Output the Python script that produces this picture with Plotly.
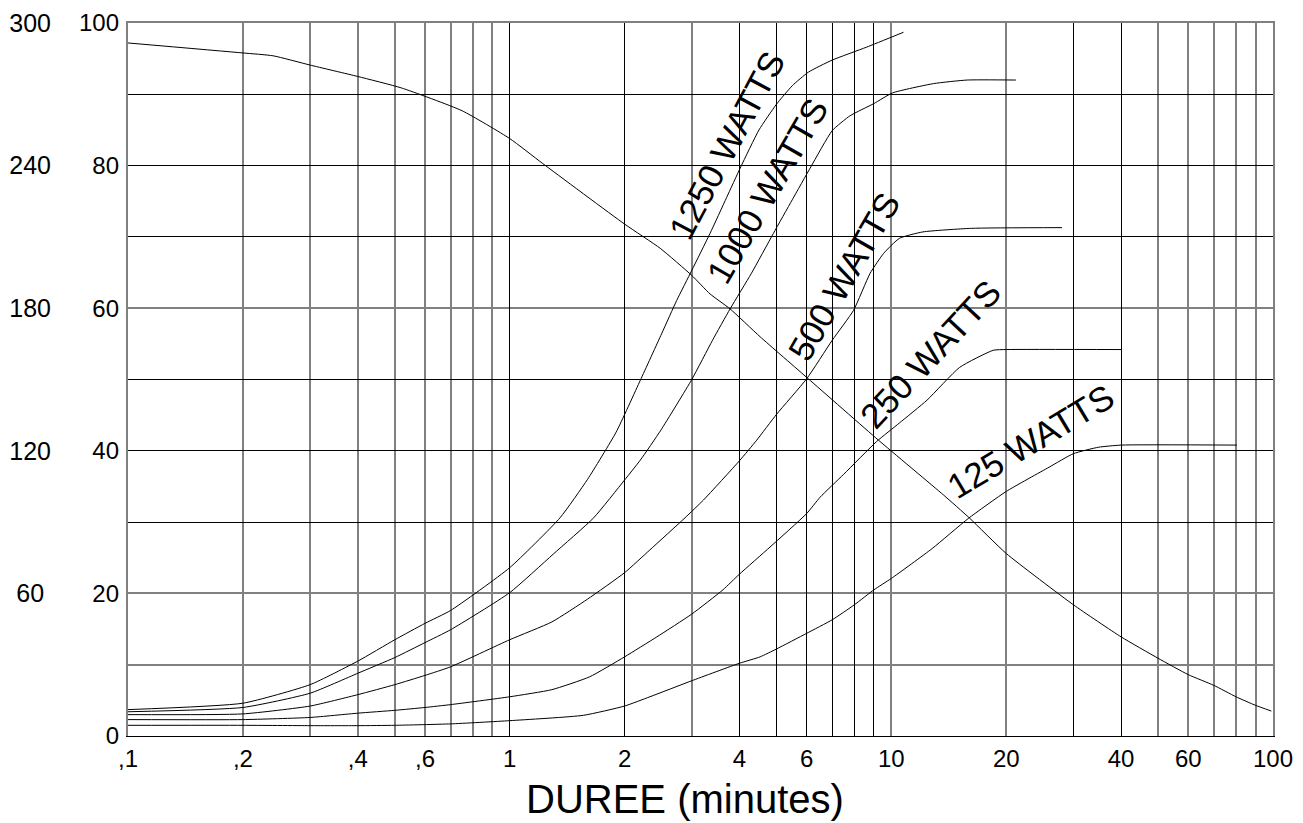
import math
import plotly.graph_objects as go

# ---------------- data ----------------
X_TICK_VALS = [0.1, 0.2, 0.4, 0.6, 1, 2, 4, 6, 10, 20, 40, 60, 100]
X_TICK_TEXT = [",1", ",2", ",4", ",6", "1", "2", "4", "6", "10", "20", "40", "60", "100"]
Y_TICK_VALS = [0, 20, 40, 60, 80, 100]
Y300_TICK_VALS = [60, 120, 180, 240, 300]
Y300_TICK_TEXT = ["60\u00a0", "120", "180", "240", "300"]

X_GRID_BLACK = [1, 2, 4, 5, 6, 7, 8, 9, 30, 40]
X_GRID_GRAY = [0.2, 0.3, 0.4, 0.5, 0.6, 0.7, 0.8, 0.9, 3, 10, 20, 50, 60, 70, 80, 90]
Y_GRID_BLACK = [30, 40, 50, 70, 80, 90]
Y_GRID_GRAY = [10, 20, 60]

w1250_x = [0.1, 0.2, 0.3, 0.4, 0.5, 0.6, 0.7, 1.0, 1.355, 1.6, 1.9, 2.2, 2.5, 2.74, 3.0, 3.35, 3.7, 4.03, 4.5, 5.0, 5.5, 6.06, 7.0, 8.6, 10.76]
w1250_y = [3.7, 4.6, 7.2, 10.5, 13.5, 15.8, 17.6, 23.6, 30.6, 36.0, 42.6, 49.9, 56.4, 61.1, 65.3, 70.5, 75.5, 79.8, 85.0, 88.6, 91.2, 93.1, 94.8, 96.6, 98.7]

w1000_x = [0.1, 0.2, 0.3, 0.4, 0.5, 0.6, 0.7, 1.0, 1.3, 1.66, 2.0, 2.2, 2.49, 3.0, 3.4, 3.78, 4.3, 4.91, 5.5, 6.15, 7.0, 7.8, 9.0, 10.08, 12.9, 15.8, 21.2]
w1000_y = [3.4, 4.0, 6.0, 8.8, 11.0, 13.1, 14.9, 20.1, 25.5, 30.6, 35.9, 38.7, 42.9, 50.0, 55.5, 59.9, 64.9, 70.5, 75.2, 79.8, 84.9, 87.0, 88.7, 90.2, 91.5, 92.0, 92.0]

w500_x = [0.1, 0.2, 0.3, 0.4, 0.5, 0.6, 0.7, 1.0, 1.29, 1.6, 2.0, 2.33, 2.88, 3.22, 4.0, 4.44, 5.0, 6.0, 7.0, 7.96, 8.8, 9.55, 10.5, 12.1, 16.2, 28.0]
w500_y = [3.0, 3.1, 4.2, 5.8, 7.2, 8.5, 9.7, 13.5, 16.0, 19.2, 22.9, 26.1, 30.6, 33.1, 38.6, 41.5, 45.1, 50.1, 55.5, 59.7, 64.9, 67.7, 69.8, 70.7, 71.2, 71.3]

w250_x = [0.1, 0.2, 0.3, 0.4, 0.5, 0.6, 0.7, 1.0, 1.29, 1.62, 2.0, 2.43, 3.0, 3.62, 4.0, 4.81, 6.0, 6.51, 7.5, 9.15, 10.5, 12.4, 15.1, 18.5, 20, 40]
w250_y = [2.3, 2.3, 2.6, 3.2, 3.6, 4.0, 4.4, 5.5, 6.5, 8.3, 11.1, 13.9, 17.1, 20.5, 22.7, 26.5, 31.2, 33.5, 36.7, 41.3, 43.9, 47.1, 51.7, 54.1, 54.2, 54.2]

w125_x = [0.1, 0.2, 0.3, 0.4, 0.5, 0.7, 1.0, 1.56, 2.0, 2.33, 3.0, 4.0, 4.53, 5.0, 6.0, 7.0, 8.0, 9.0, 10.0, 12.8, 15.9, 20, 25.9, 30, 34.9, 40, 80.4]
w125_y = [1.5, 1.5, 1.45, 1.45, 1.5, 1.7, 2.15, 2.9, 4.2, 5.5, 7.75, 10.2, 11.1, 12.2, 14.4, 16.3, 18.4, 20.5, 22.1, 26.3, 30.5, 34.3, 37.7, 39.6, 40.5, 40.8, 40.8]

# falling curve, read on the 0-300 scale
fall_x = [0.1, 0.2, 0.24, 0.3, 0.4, 0.52, 0.75, 1.0, 1.22, 2.0, 2.48, 3.0, 3.35, 3.78, 4.53, 6.06, 9.25, 13.7, 16.0, 20, 30, 40, 50, 60, 70, 80, 90, 99]
fall_y300 = [291.6, 287.4, 286.2, 282.3, 277.5, 272.7, 263.1, 251.4, 240.9, 215.4, 205.2, 193.8, 186.0, 179.7, 168.0, 150.3, 124.5, 101.4, 91.8, 76.8, 55.2, 41.7, 32.7, 25.8, 21.3, 16.5, 12.9, 10.5]

# (name, x, y, x-axis, y-axis) -- the grid axes x2 / y2 share the data range
series = [("1250 W", w1250_x, w1250_y, "x", "y"),
          ("1000 W", w1000_x, w1000_y, "x", "y"),
          ("500 W", w500_x, w500_y, "x", "y"),
          ("250 W", w250_x, w250_y, "x", "y2"),
          ("125 W", w125_x, w125_y, "x2", "y")]

label_text = ["1250 WATTS", "1000 WATTS", "500 WATTS", "250 WATTS", "125 WATTS"]
label_x = [3.70, 4.73, 7.52, 12.7, 23.1]
label_y = [82.8, 76.5, 64.4, 53.6, 41.35]
label_angle = [-62, -60, -60, -47, -31]

# ---------------- figure ----------------
W, H = 1303, 823
ML, MR, MT, MB = 0, 30, 23, 87
PW = W - ML - MR
PH = H - MT - MB
XD0 = 128 / PW
FONT = "Arial, 'Liberation Sans', sans-serif"
GRAY = "#808080"

fig = go.Figure()
for name, xs, ys, xa, ya in series:
    fig.add_trace(go.Scatter(x=xs, y=ys, mode="lines", name=name,
                             xaxis=xa, yaxis=ya,
                             line=dict(color="black", width=1, shape="spline", smoothing=0.5),
                             hoverinfo="skip", showlegend=False))
fig.add_trace(go.Scatter(x=fall_x, y=fall_y300, mode="lines", name="fall",
                         yaxis="y3",
                         line=dict(color="black", width=1, shape="spline", smoothing=0.5),
                         hoverinfo="skip", showlegend=False))

for t, lx, ly, ang in zip(label_text, label_x, label_y, label_angle):
    fig.add_annotation(text=t, x=math.log10(lx), y=ly, xref="x", yref="y",
                       textangle=ang, showarrow=False,
                       font=dict(size=35, color="black", family=FONT))

fig.add_annotation(text="DUREE (minutes)", xref="paper", yref="paper",
                   x=685 / PW, y=(736 - 799) / PH,
                   xanchor="center", yanchor="middle", showarrow=False,
                   font=dict(size=40, color="black", family=FONT))

fig.update_layout(
    width=W, height=H,
    margin=dict(l=ML, r=MR, t=MT, b=MB, autoexpand=False),
    paper_bgcolor="white", plot_bgcolor="white",
    font=dict(family=FONT, color="black", size=24),
    showlegend=False,
    xaxis=dict(type="log", range=[-1, 2], domain=[XD0, 1], anchor="y",
               tickmode="array", tickvals=X_TICK_VALS, ticktext=X_TICK_TEXT,
               showgrid=False, zeroline=False, ticks="",
               showline=True, linecolor="black", linewidth=1,
               ticklabelstandoff=1,
               tickfont=dict(size=24, color="black")),
    xaxis2=dict(type="log", range=[-1, 2], domain=[XD0, 1], anchor="y",
                overlaying="x", side="top", showticklabels=False, ticks="",
                showline=True, linecolor=GRAY, linewidth=2,
                tickmode="array", tickvals=X_GRID_BLACK,
                showgrid=True, gridcolor="black", gridwidth=1,
                minor=dict(tickmode="array", tickvals=X_GRID_GRAY, showgrid=True,
                           gridcolor=GRAY, gridwidth=2, ticks=""),
                zeroline=False),
    yaxis=dict(range=[0, 100], domain=[0, 1], anchor="x",
               tickmode="array", tickvals=Y_TICK_VALS,
               showgrid=False, zeroline=False, showline=False, ticks="",
               ticklabelstandoff=8, tickfont=dict(size=24, color="black")),
    yaxis2=dict(range=[0, 100], domain=[0, 1], anchor="x", overlaying="y",
                showticklabels=False, ticks="",
                showline=True, mirror=True, linecolor=GRAY, linewidth=2,
                tickmode="array", tickvals=Y_GRID_BLACK,
                showgrid=True, gridcolor="black", gridwidth=1,
                minor=dict(tickmode="array", tickvals=Y_GRID_GRAY, showgrid=True,
                           gridcolor=GRAY, gridwidth=2, ticks=""),
                zeroline=False),
    yaxis3=dict(range=[0, 300], overlaying="y", anchor="free", side="left",
                position=51 / PW, tickmode="array", tickvals=Y300_TICK_VALS,
                ticktext=Y300_TICK_TEXT, showgrid=False, zeroline=False,
                showline=False, ticks="", tickfont=dict(size=25, color="black")),
)

fig.write_html("out.html")
